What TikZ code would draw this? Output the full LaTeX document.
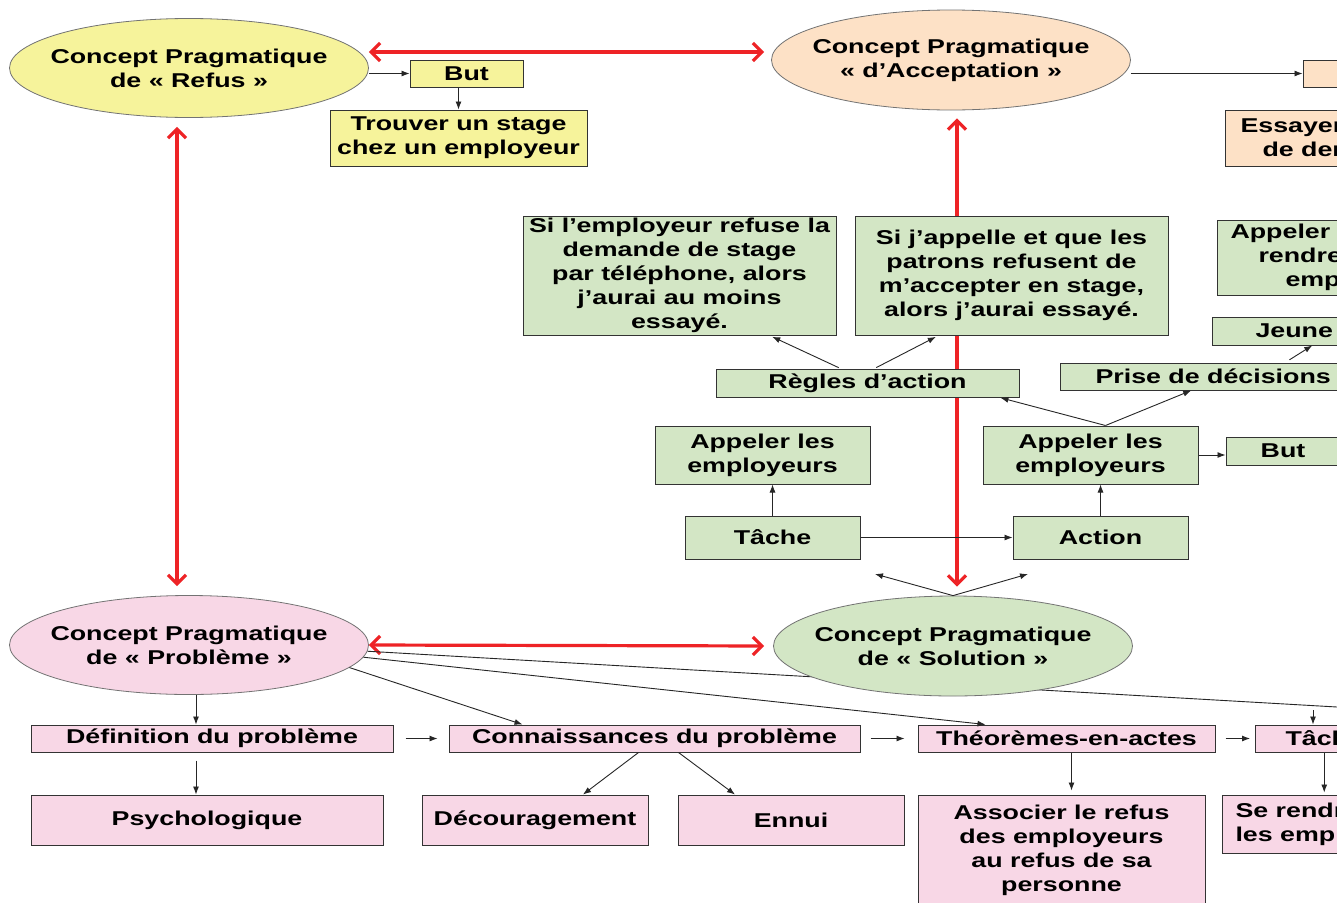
\documentclass[tikz,border=0pt]{standalone}
\usepackage{fontspec}
\setmainfont{Liberation Sans}[FakeStretch=1.34]
\usetikzlibrary{shapes.geometric,arrows.meta}
\definecolor{jaune}{HTML}{F6F39B}
\definecolor{peche}{HTML}{FDE1C6}
\definecolor{vert}{HTML}{D3E6C5}
\definecolor{rose}{HTML}{F8D7E6}
\definecolor{rouge}{HTML}{EE2326}
\pgfdeclarelayer{bg}
\pgfsetlayers{bg,main}

\begin{document}
\begin{tikzpicture}[x=1pt,y=-1pt,
  every node/.style={font=\fontsize{20}{24}\selectfont\bfseries},
  concept/.style={ellipse,draw=black!55,line width=0.8pt,inner xsep=-12pt,inner ysep=0pt,minimum width=359pt,minimum height=99pt,align=center},
  cbox/.style={rectangle,draw=black!80,line width=1pt,inner sep=0pt,align=center},
  link/.style={-{Latex[length=8pt,width=6pt]},line width=0.9pt,black!85},
  rlink/.style={{Straight Barb[length=9pt,width=18pt]}-{Straight Barb[length=9pt,width=18pt]},line width=3.2pt,rouge}]
\path[use as bounding box] (0,0) rectangle (1337,902);
\clip (0,0) rectangle (1337,902);

\node (refus) at (189,68) [concept,fill=jaune] {Concept Pragmatique\\de «~Refus~»};
\node (accept) at (951,60) [concept,fill=peche,minimum height=100pt] {Concept Pragmatique\\«~d’Acceptation~»};
\node (probleme) at (189,645) [concept,fill=rose] {Concept Pragmatique\\de «~Problème~»};
\node (solution) at (953,646) [concept,fill=vert,minimum height=100pt] {Concept Pragmatique\\de «~Solution~»};

\node (butJ) at (466.5,73.5) [cbox,fill=jaune,minimum width=113pt,minimum height=27pt] {But};
\node (trouver) at (458.5,138) [cbox,fill=jaune,minimum width=257pt,minimum height=56pt] {Trouver un stage\\chez un employeur};
\node (butP) at (1343,73.5) [cbox,fill=peche,minimum width=80pt,minimum height=27pt] {};
\node (essayer) at (1225,138) [cbox,fill=peche,anchor=west,minimum height=56pt,inner xsep=15pt,align=left] {Essayer\\\hspace*{22pt}de demander};

\node (siEmp) at (679.5,275.5) [cbox,fill=vert,minimum width=313pt,minimum height=119pt] {Si l’employeur refuse la\\demande de stage\\par téléphone, alors\\j’aurai au moins\\essayé.};
\node (siApp) at (1011.5,275.5) [cbox,fill=vert,minimum width=313pt,minimum height=119pt] {Si j’appelle et que les\\patrons refusent de\\m’accepter en stage,\\alors j’aurai essayé.};
\node (appelerH) at (1217,257.5) [cbox,fill=vert,anchor=west,minimum height=75pt,inner xsep=13pt,align=left] {Appeler\\\hspace*{28pt}rendre\\\hspace*{55pt}employeurs};
\node (jeune) at (1212,331) [cbox,fill=vert,anchor=west,minimum height=28pt,inner xsep=43pt] {Jeune};
\node (prise) at (1060,376.5) [cbox,fill=vert,anchor=west,minimum height=27pt,inner xsep=35pt] {Prise de décisions};
\node (regles) at (867.5,383) [cbox,fill=vert,minimum width=303pt,minimum height=28pt] {Règles d’action};
\node (appelerL) at (762.5,455) [cbox,fill=vert,minimum width=215pt,minimum height=58pt] {Appeler les\\employeurs};
\node (appelerR) at (1090.5,455) [cbox,fill=vert,minimum width=215pt,minimum height=58pt] {Appeler les\\employeurs};
\node (butV) at (1283,451) [cbox,fill=vert,minimum width=114pt,minimum height=28pt] {But};
\node (tacheV) at (772.5,537.5) [cbox,fill=vert,minimum width=175pt,minimum height=43pt] {Tâche};
\node (action) at (1100.5,537.5) [cbox,fill=vert,minimum width=175pt,minimum height=43pt] {Action};

\node (definition) at (212,738.5) [cbox,fill=rose,minimum width=362pt,minimum height=27pt] {Définition du problème};
\node (connaiss) at (654.5,738.5) [cbox,fill=rose,minimum width=411pt,minimum height=27pt] {Connaissances du problème};
\node (theoremes) at (1066.5,738.5) [cbox,fill=rose,minimum width=297pt,minimum height=27pt] {Théorèmes-en-actes};
\node (tacheR) at (1255,738.5) [cbox,fill=rose,anchor=west,minimum height=27pt,inner xsep=30pt] {Tâche};
\node (psycho) at (207,820) [cbox,fill=rose,minimum width=352pt,minimum height=50pt] {Psychologique};
\node (decour) at (535,820) [cbox,fill=rose,minimum width=226pt,minimum height=50pt] {Découragement};
\node (ennui) at (791,820) [cbox,fill=rose,minimum width=226pt,minimum height=50pt] {Ennui};
\node (associer) at (1061.5,850) [cbox,fill=rose,minimum width=287pt,minimum height=110pt] {Associer le refus\\des employeurs\\au refus de sa\\personne};
\node (seRendre) at (1222,824) [cbox,fill=rose,anchor=west,minimum height=58pt,inner xsep=13pt,align=left] {Se rendre chez\\les employeurs};

\coordinate (solL) at (875,574);
\coordinate (solR) at (1028,574);
\coordinate (loin) at (1337,707);
\coordinate (tacheIn) at (1313,710);

\begin{pgfonlayer}{bg}
\fill[white] (0,0) rectangle (1337,902);
\draw[rlink,shorten >=7pt] ([yshift=16pt]refus.east) -- ([yshift=8pt]accept.west);
\draw[rlink,shorten <=9pt,shorten >=9pt] ([xshift=-12pt]refus.south) -- ([xshift=-12pt]probleme.north);
\draw[rlink,shorten <=8pt,shorten >=9pt] ([xshift=6pt]accept.south) -- ([xshift=4pt]solution.north);
\draw[rlink,shorten >=9pt] (probleme.east) -- (solution.west);
\draw[line width=0.9pt,black!85] (probleme.-2) -- (loin);
\end{pgfonlayer}

\draw[link] (butJ.west -| refus.east) -- (butJ.west);
\draw[link] (trouver.north |- butJ.south) -- (trouver.north);
\draw[link] (butP.west -| accept.east) -- (butP.west);
\draw[link,shorten <=2pt,shorten >=3pt] ([xshift=-27pt]regles.north) -- ([xshift=90pt]siEmp.south);
\draw[link,shorten <=2pt,shorten >=3pt] ([xshift=7pt]regles.north) -- ([xshift=-73pt]siApp.south);
\draw[link] (tacheV.north) -- (tacheV.north |- appelerL.south);
\draw[link] (tacheV.east) -- (action.west);
\draw[link] (action.north) -- (action.north |- appelerR.south);
\draw[link,shorten >=1pt] ([xshift=15pt]appelerR.north) -- ([xshift=132pt]regles.south);
\draw[link] ([xshift=15pt]appelerR.north) -- ([xshift=-22pt]prise.south);
\draw[link] (appelerR.east) -- (appelerR.east -| butV.west);
\draw[link,shorten <=5pt] ([xshift=72pt]prise.north) -- ([xshift=18pt]jeune.south);
\draw[link] (solution.north) -- (solL);
\draw[link] (solution.north) -- (solR);

\draw[link] ([xshift=7pt]probleme.south) -- ([xshift=7pt]probleme.south |- definition.north);
\draw[link,shorten <=8pt] ([xshift=-16pt]definition.south) -- ([xshift=-16pt]definition.south |- psycho.north);
\draw[link,shorten <=12pt,shorten >=11pt] (definition.east) -- (connaiss.west);
\draw[link,shorten <=10pt,shorten >=13pt] (connaiss.east) -- (theoremes.west);
\draw[link,shorten <=10pt,shorten >=5pt] (theoremes.east) -- (theoremes.east -| tacheR.west);
\draw[link] (probleme.-8) -- ([xshift=-132pt]connaiss.north);
\draw[link] (probleme.-4) -- ([xshift=-81pt]theoremes.north);
\draw[link] ([xshift=-16pt]connaiss.south) -- ([xshift=48pt]decour.north);
\draw[link] ([xshift=24pt]connaiss.south) -- ([xshift=-56pt]ennui.north);
\draw[link,shorten >=4pt] ([xshift=5pt]theoremes.south) -- ([xshift=5pt]theoremes.south |- associer.north);
\draw[link] (tacheIn) -- (tacheIn |- tacheR.north);
\draw[link,shorten >=2pt] (tacheR.south) -- (tacheR.south |- seRendre.north);
\end{tikzpicture}
\end{document}
